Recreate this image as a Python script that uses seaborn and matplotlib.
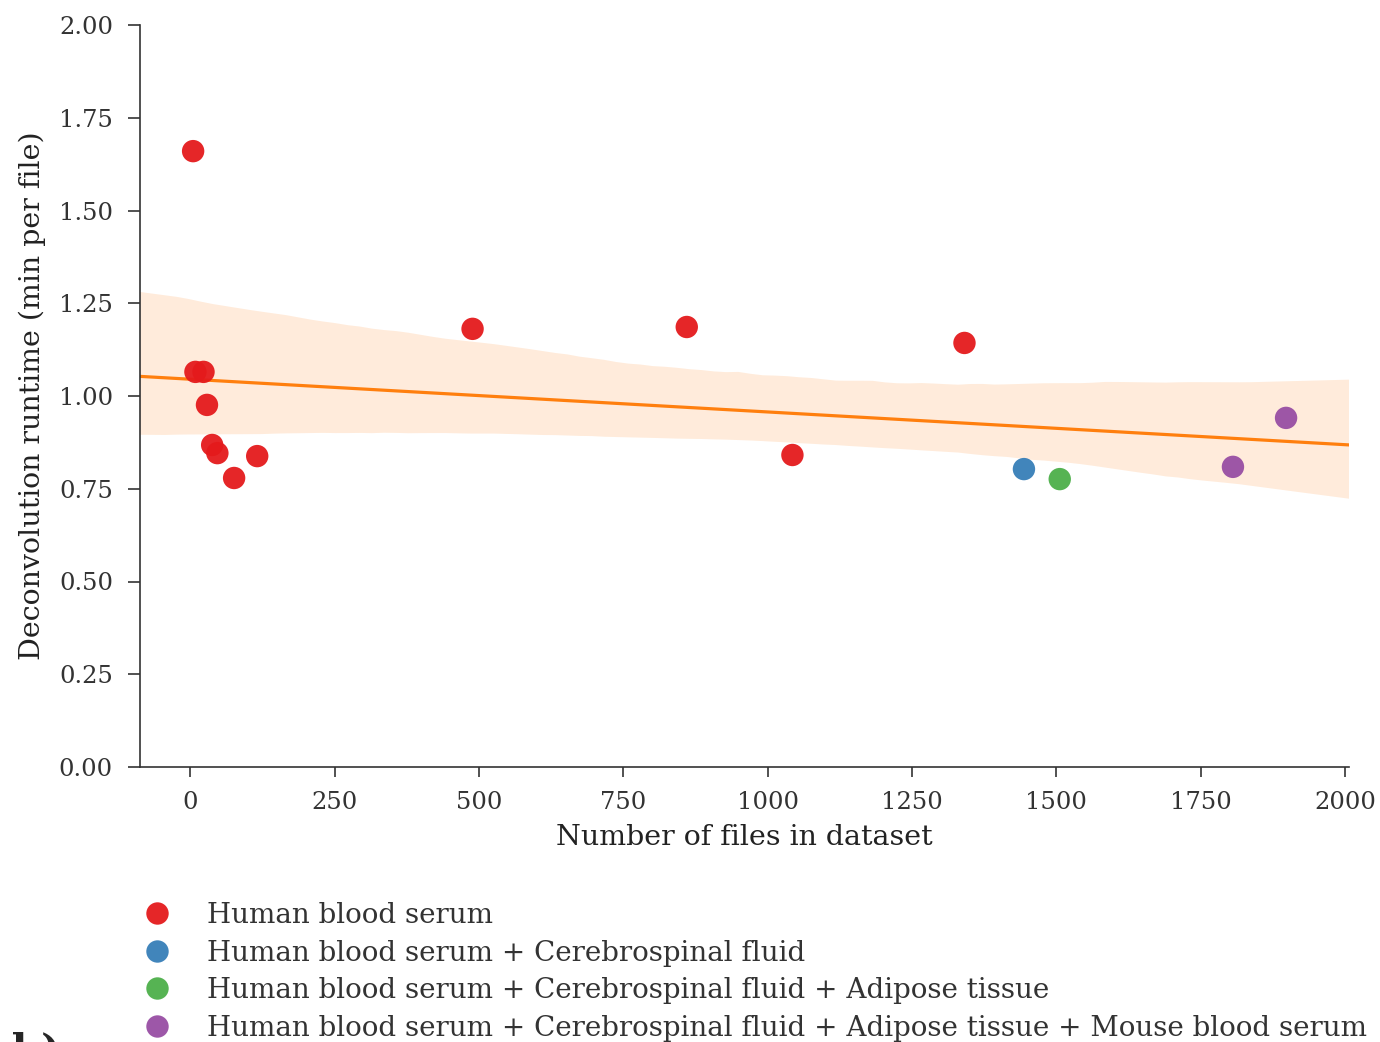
import numpy as np
import pandas as pd
import seaborn as sns
import matplotlib
matplotlib.use("Agg")
import matplotlib.pyplot as plt

n_files = [5, 9, 23, 29, 38, 47, 76, 116, 489, 860, 1043, 1341,
           1444, 1506, 1806, 1898]
runtime = [1.660, 1.065, 1.065, 0.976, 0.868, 0.846, 0.779, 0.838, 1.181,
           1.186, 0.841, 1.143, 0.803, 0.776, 0.809, 0.941]
group_names = ["Human blood serum",
               "Human blood serum + Cerebrospinal fluid",
               "Human blood serum + Cerebrospinal fluid + Adipose tissue",
               "Human blood serum + Cerebrospinal fluid + Adipose tissue + Mouse blood serum"]
group_idx = [0] * 12 + [1, 2, 3, 3]
palette = ["#e41a1c", "#377eb8", "#4daf4a", "#984ea3"]
x_ticks = [0, 250, 500, 750, 1000, 1250, 1500, 1750, 2000]
y_ticks = [0.00, 0.25, 0.50, 0.75, 1.00, 1.25, 1.50, 1.75, 2.00]

df = pd.DataFrame({"files": n_files, "runtime": runtime,
                   "group": [group_names[i] for i in group_idx]})

sns.set_theme(style="ticks")
plt.rcParams["font.family"] = ["DejaVu Serif"]
plt.rcParams["xtick.major.size"] = 7.5
plt.rcParams["ytick.major.size"] = 8.5

fig = plt.figure(figsize=(13.8, 10.42), dpi=100)
ax = fig.add_axes([140 / 1380, 1 - 767 / 1042, (1349 - 140) / 1380, (767 - 25) / 1042])

ax.set_xlim(-87, 2007)
sns.regplot(data=df, x="files", y="runtime", ax=ax, scatter=False, truncate=False,
            color="#ff7f0e", line_kws={"lw": 2.3}, ci=95, seed=3)
for coll in ax.collections:
    coll.set_alpha(0.15)
    coll.set_edgecolor("none")

sns.scatterplot(data=df, x="files", y="runtime", hue="group", hue_order=group_names,
                palette=palette, s=260, edgecolor="none", alpha=0.95, ax=ax, zorder=3)

ax.set_xlim(-87, 2007)
ax.set_ylim(0, 2.0)
ax.set_xticks(x_ticks)
ax.set_yticks(y_ticks)
ax.set_yticklabels([f"{v:.2f}" for v in y_ticks])
ax.tick_params(labelsize=17.5, colors="#333333", width=1.2)
ax.tick_params(axis="x", pad=10)
ax.tick_params(axis="y", pad=11)
for lbl in ax.get_xticklabels() + ax.get_yticklabels():
    lbl.set_color("#333333")
ax.set_xlabel("Number of files in dataset", fontsize=20.5, color="#222222", labelpad=7)
ax.set_ylabel("Deconvolution runtime (min per file)", fontsize=20.5, color="#222222", labelpad=9)
sns.despine(ax=ax)
for sp in ["left", "bottom"]:
    ax.spines[sp].set_linewidth(1.2)
    ax.spines[sp].set_color("#333333")

handles, labels = ax.get_legend_handles_labels()
ax.get_legend().remove()
leg = fig.legend(handles, labels, loc="upper left", bbox_to_anchor=(104 / 1380, 1 - 877 / 1042),
                 frameon=False, fontsize=20, markerscale=1.0, handletextpad=0.8,
                 labelspacing=0.38, labelcolor="#333333")

fig.text(12 / 1380, 1 - 1031 / 1042, "b)", fontsize=30, fontweight="bold", va="top", ha="left")

fig.savefig("out.png", dpi=100)
